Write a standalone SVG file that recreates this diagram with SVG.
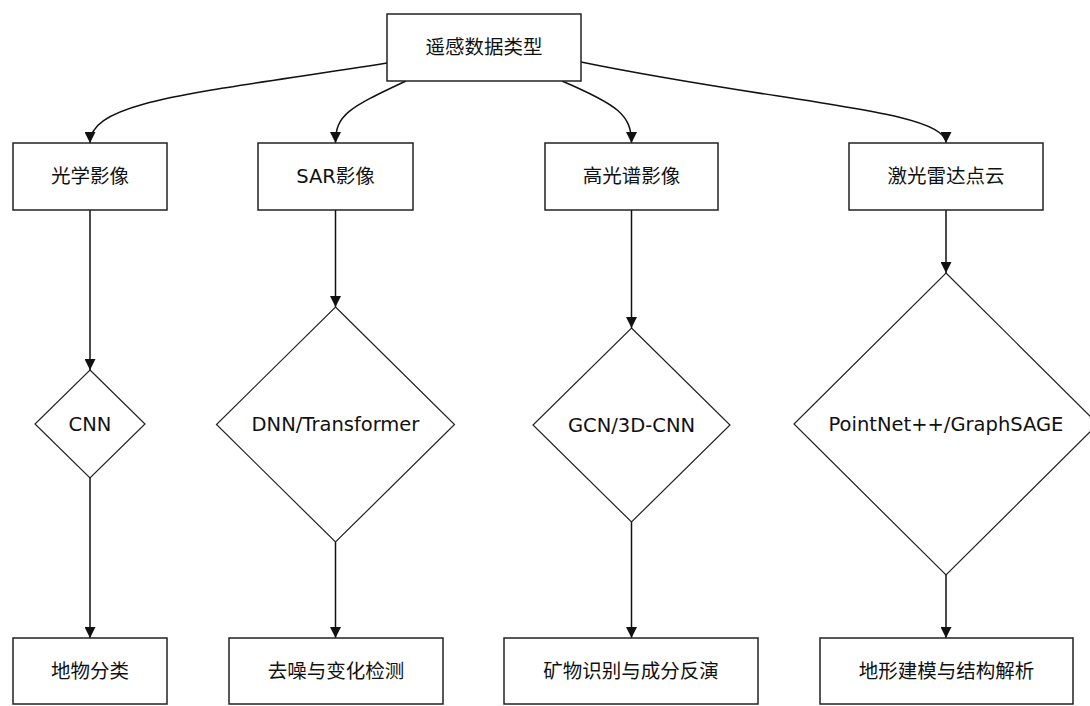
<svg xmlns="http://www.w3.org/2000/svg" width="1090" height="706" viewBox="0 0 1090 706">
<style>
.box{fill:#fff;stroke:#222;stroke-width:1.5}
.dia{fill:#fff;stroke:#222;stroke-width:1.2}
.lbl{font-family:"DejaVu Sans","Noto Sans CJK SC",sans-serif;font-size:19.5px;fill:#111;text-anchor:middle;dominant-baseline:central}
.edge{fill:none;stroke:#111;stroke-width:1.5;marker-end:url(#arr)}
</style>
<defs>
<marker id="arr" markerUnits="userSpaceOnUse" markerWidth="11" markerHeight="11" refX="10" refY="5" orient="auto" viewBox="0 0 10 10">
<path d="M0,0 L10,5 L0,10 z" fill="#111"/>
</marker>
</defs>
<rect width="1090" height="706" fill="#fff"/>
<g id="connectors">
<path class="edge" d="M387,63 C200,93 90,100 90,143"/>
<path class="edge" d="M406,81 C348,108 335.5,115 335.5,143"/>
<path class="edge" d="M562,81 C618,105 631.5,115 631.5,143"/>
<path class="edge" d="M581,62 C780,103 946,110 946,143"/>
<path class="edge" d="M90,210 L90,370"/>
<path class="edge" d="M90,478 L90,638"/>
<path class="edge" d="M335.5,210 L335.5,307"/>
<path class="edge" d="M335.5,542 L335.5,638"/>
<path class="edge" d="M631.5,210 L631.5,328"/>
<path class="edge" d="M631.5,522 L631.5,638"/>
<path class="edge" d="M946,210 L946,273"/>
<path class="edge" d="M946,575 L946,638"/>
</g>
<g id="root"><rect class="box" x="387" y="14" width="194" height="67"/><text class="lbl" x="484" y="47.5">遥感数据类型</text></g>
<g id="optical"><rect class="box" x="13" y="143" width="154" height="67"/><text class="lbl" x="90" y="176.5">光学影像</text></g>
<g id="sar"><rect class="box" x="258" y="143" width="155" height="67"/><text class="lbl" x="335.5" y="176.5">SAR影像</text></g>
<g id="hyper"><rect class="box" x="545" y="143" width="173" height="67"/><text class="lbl" x="631.5" y="176.5">高光谱影像</text></g>
<g id="lidar"><rect class="box" x="849" y="143" width="194" height="67"/><text class="lbl" x="946" y="176.5">激光雷达点云</text></g>
<g id="cnn"><polygon class="dia" points="90,370 145,424 90,478 35,424"/><text class="lbl" x="90" y="424">CNN</text></g>
<g id="dnn"><polygon class="dia" points="335.5,307 454.5,424.5 335.5,542 216.5,424.5"/><text class="lbl" x="335.5" y="424.5">DNN/Transformer</text></g>
<g id="gcn"><polygon class="dia" points="631.5,328 730,425 631.5,522 533,425"/><text class="lbl" x="631.5" y="425">GCN/3D-CNN</text></g>
<g id="pointnet"><polygon class="dia" points="946,273 1098,424 946,575 794,424"/><text class="lbl" x="946" y="424">PointNet++/GraphSAGE</text></g>
<g id="classify"><rect class="box" x="13" y="638" width="154" height="66"/><text class="lbl" x="90" y="671">地物分类</text></g>
<g id="denoise"><rect class="box" x="229" y="638" width="214" height="66"/><text class="lbl" x="336" y="671">去噪与变化检测</text></g>
<g id="mineral"><rect class="box" x="504" y="638" width="254" height="66"/><text class="lbl" x="631" y="671">矿物识别与成分反演</text></g>
<g id="terrain"><rect class="box" x="820" y="638" width="253" height="66"/><text class="lbl" x="946.5" y="671">地形建模与结构解析</text></g>
</svg>
